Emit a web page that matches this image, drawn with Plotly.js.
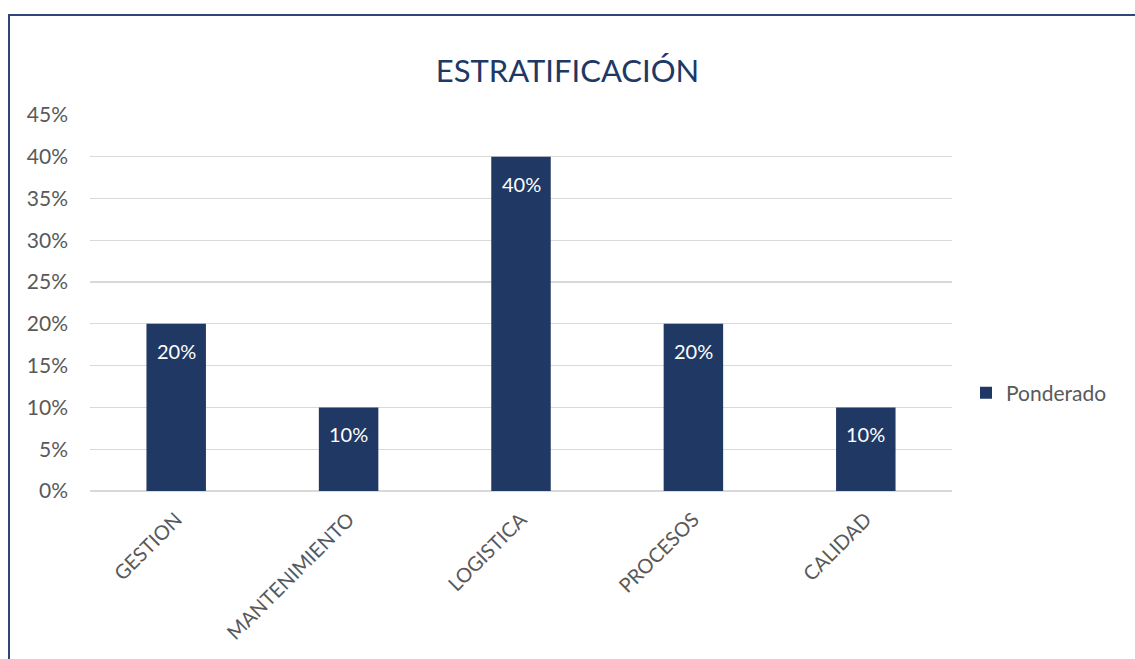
<!DOCTYPE html>
<html>
<head>
<meta charset="utf-8">
<script src="https://cdn.plot.ly/plotly-3.0.1.min.js"></script>
<style>html,body{margin:0;padding:0;background:#fff;}</style>
</head>
<body>
<div id="chart" style="width:1135px;height:659px;"></div>
<script>
const categories = ["GESTION", "MANTENIMIENTO", "LOGISTICA", "PROCESOS", "CALIDAD"];
const ponderado = [0.20, 0.10, 0.40, 0.20, 0.10];
const seriesName = "Ponderado";
const yTickVals = [0, 0.05, 0.10, 0.15, 0.20, 0.25, 0.30, 0.35, 0.40, 0.45];

const FONT = "Lato, 'Open Sans', 'Liberation Sans', sans-serif";
const trace = {
  type: "bar",
  x: categories,
  y: ponderado,
  name: seriesName,
  marker: {color: "#203864"},
  hoverinfo: "x+y",
  showlegend: true
};

const labelAnnotations = categories.map((c, i) => ({
  x: c, y: ponderado[i], xref: "x", yref: "y",
  text: Math.round(ponderado[i] * 100) + "%",
  showarrow: false, yanchor: "middle", xanchor: "center", yshift: -27,
  font: {family: FONT, size: 20, color: "#ffffff"}
}));

const layout = {
  width: 1135, height: 659,
  margin: {l: 90, r: 183, t: 114, b: 168, pad: 0},
  paper_bgcolor: "#ffffff", plot_bgcolor: "#ffffff",
  font: {family: FONT, color: "#595959", size: 20},
  title: {text: "ESTRATIFICACIÓN", font: {family: FONT, size: 31, color: "#203864"},
          x: 0.5, xanchor: "center", y: 1 - 71/659, yanchor: "middle"},
  bargap: 0.655,
  xaxis: {type: "category", tickangle: -45, showgrid: false, zeroline: false,
          showline: false, ticks: "", ticklabelstandoff: 12,
          tickfont: {size: 20, color: "#595959"}},
  yaxis: {range: [0, 0.451], tickvals: yTickVals, tickformat: ".0%",
          showgrid: true, gridcolor: "#D9D9D9", gridwidth: 1.3,
          zeroline: true, zerolinecolor: "#D9D9D9", zerolinewidth: 1.3,
          showline: false, ticks: "", ticklen: 0, ticklabelstandoff: 21,
          tickfont: {size: 21, color: "#595959"}},
  showlegend: true,
  legend: {x: (966 - 90) / 862, y: 0.26, xanchor: "left", yanchor: "middle",
           font: {size: 21, color: "#595959"}, itemwidth: 30, bgcolor: "rgba(0,0,0,0)"},
  annotations: labelAnnotations,
  shapes: [{type: "rect", xref: "paper", yref: "paper",
            x0: (9 - 90) / 862, x1: 1.5, y0: -1, y1: (491 - 15) / 377,
            line: {color: "#2F4677", width: 2}, fillcolor: "rgba(0,0,0,0)", layer: "above"}]
};

Plotly.newPlot("chart", [trace], layout, {displayModeBar: false, staticPlot: true});
</script>
</body>
</html>
